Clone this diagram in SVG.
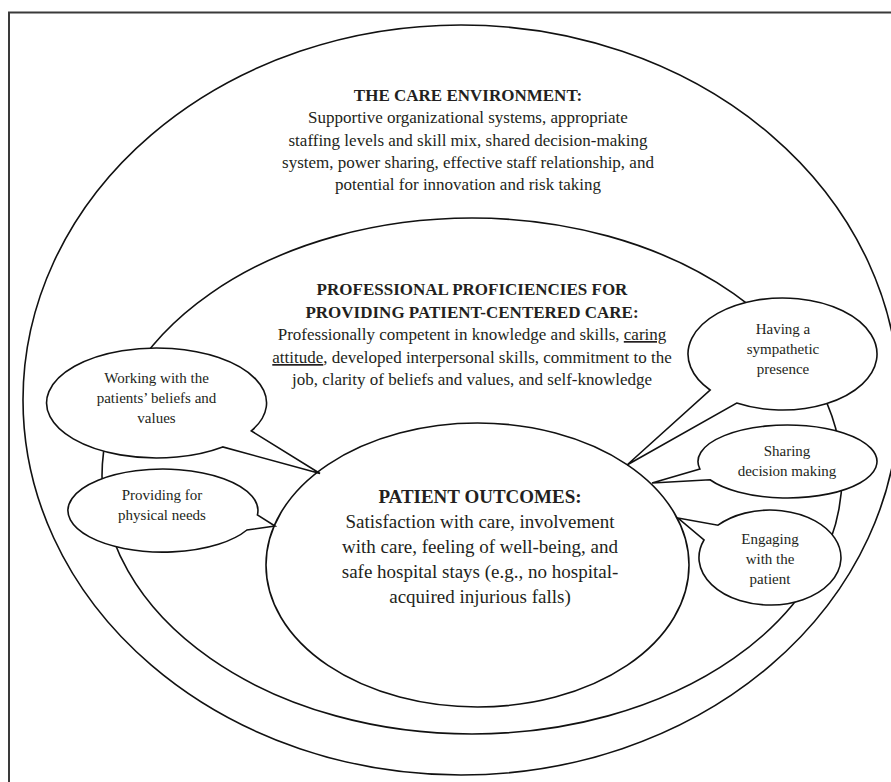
<svg xmlns="http://www.w3.org/2000/svg" width="891" height="782" viewBox="0 0 891 782">
<style>
.ln{fill:none;stroke:#111;stroke-width:1.6}
.wf{fill:#fff;stroke:#111;stroke-width:1.6;stroke-linejoin:miter}
text{font-family:"Liberation Serif","Times New Roman",serif;fill:#231f20;text-anchor:middle}
.t17{font-size:17px}
.t19{font-size:19px}
.t15{font-size:15px}
.b{font-weight:bold}
</style>
<rect x="0" y="0" width="891" height="782" fill="#fff"/>
<rect id="frame" x="9" y="12.5" width="900" height="800" fill="none" stroke="#3a3a3a" stroke-width="2"/>

<g id="care-environment">
<ellipse class="ln" cx="461" cy="400" rx="438" ry="375"/>
<text class="t17"><tspan class="b" x="468" y="101">THE CARE ENVIRONMENT:</tspan><tspan x="468" y="123">Supportive organizational systems, appropriate</tspan><tspan x="468" y="145.5">staffing levels and skill mix, shared decision-making</tspan><tspan x="468" y="168">system, power sharing, effective staff relationship, and</tspan><tspan x="468" y="190">potential for innovation and risk taking</tspan></text>
</g>

<g id="professional-proficiencies">
<ellipse class="ln" cx="472" cy="476" rx="370" ry="258"/>
<text class="t17"><tspan class="b" x="472" y="295">PROFESSIONAL PROFICIENCIES FOR</tspan><tspan class="b" x="472" y="318">PROVIDING PATIENT-CENTERED CARE:</tspan><tspan x="472" y="340">Professionally competent in knowledge and skills, <tspan text-decoration="underline">caring</tspan></tspan><tspan x="472" y="363"><tspan text-decoration="underline">attitude</tspan>, developed interpersonal skills, commitment to the</tspan><tspan x="472" y="385">job, clarity of beliefs and values, and self-knowledge</tspan></text>
</g>

<g id="patient-outcomes">
<ellipse class="wf" cx="477.5" cy="565" rx="211.5" ry="142"/>
<text class="t19"><tspan class="b" x="480" y="503">PATIENT OUTCOMES:</tspan><tspan x="480" y="528">Satisfaction with care, involvement</tspan><tspan x="480" y="553">with care, feeling of well-being, and</tspan><tspan x="480" y="578">safe hospital stays (e.g., no hospital-</tspan><tspan x="480" y="603">acquired injurious falls)</tspan></text>
</g>

<g id="working-with-beliefs">
<path class="wf" d="M251.3,430.9 A110 55 0 1 0 222.7,446.9 L320,473.5 Z"/>
<text class="t15"><tspan x="156.5" y="383">Working with the</tspan><tspan x="156.5" y="403">patients’ beliefs and</tspan><tspan x="156.5" y="423">values</tspan></text>
</g>

<g id="physical-needs">
<path class="wf" d="M257.4,515 A95 41.5 0 1 0 246.9,530 L275,526 Z"/>
<text class="t15"><tspan x="162" y="500">Providing for</tspan><tspan x="162" y="520">physical needs</tspan></text>
</g>

<g id="sympathetic-presence">
<path class="wf" d="M710.1,390 A94.5 56 0 1 1 736.7,403 L627,465 Z"/>
<text class="t15"><tspan x="783" y="334">Having a</tspan><tspan x="783" y="354">sympathetic</tspan><tspan x="783" y="374">presence</tspan></text>
</g>

<g id="sharing-decision">
<path class="wf" d="M699.9,469 A89.5 36.5 0 1 1 710,479.75 L652,483 Z"/>
<text class="t15"><tspan x="787" y="456">Sharing</tspan><tspan x="787" y="476">decision making</tspan></text>
</g>

<g id="engaging-patient">
<path class="wf" d="M718,525.2 A71 47.5 0 1 1 704,540 L678,518 Z"/>
<text class="t15"><tspan x="770" y="544">Engaging</tspan><tspan x="770" y="564">with the</tspan><tspan x="770" y="584">patient</tspan></text>
</g>
</svg>
